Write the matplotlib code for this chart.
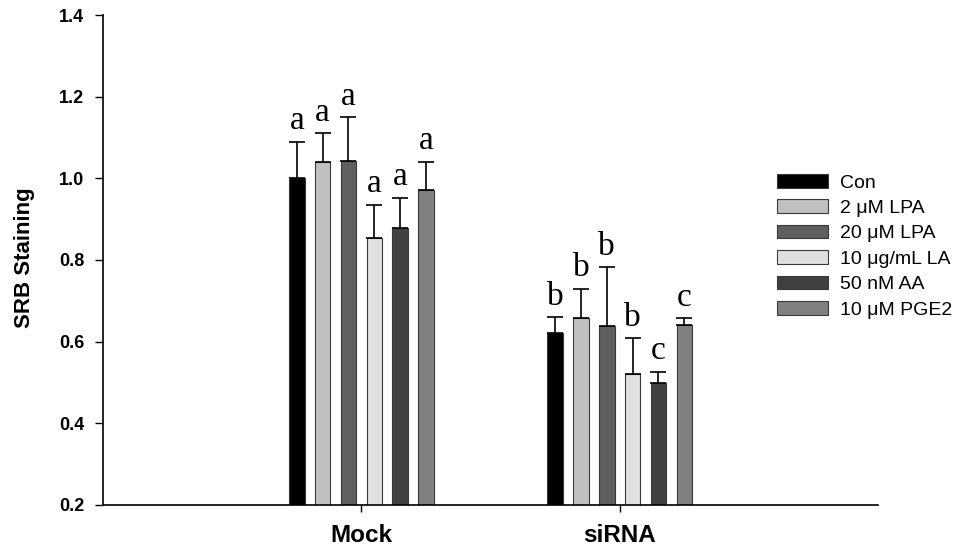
import matplotlib
matplotlib.use("Agg")
import matplotlib.pyplot as plt
import numpy as np

groups = ["Mock", "siRNA"]
treatments = ["Con", "2 μM LPA", "20 μM LPA", "10 μg/mL LA", "50 nM AA", "10 μM PGE2"]
colors = ["#000000", "#c0c0c0", "#606060", "#e0e0e0", "#404040", "#808080"]

# values[treatment][group]
means = [
    [1.000, 0.622],
    [1.039, 0.659],
    [1.043, 0.638],
    [0.853, 0.521],
    [0.878, 0.499],
    [0.971, 0.642],
]
errors = [
    [0.090, 0.038],
    [0.071, 0.070],
    [0.106, 0.144],
    [0.082, 0.087],
    [0.075, 0.027],
    [0.070, 0.015],
]
letters = [
    ["a", "b"],
    ["a", "b"],
    ["a", "b"],
    ["a", "b"],
    ["a", "c"],
    ["a", "c"],
]

fig = plt.figure(figsize=(9.63, 5.52), dpi=100)
ax = fig.add_axes([103/963, 1-505/552, (878-103)/963, (505-15)/552])

xpos = np.arange(1, len(groups) + 1)
step = 0.1
width = 0.06
n = len(treatments)
for i, (t, c) in enumerate(zip(treatments, colors)):
    x = xpos + (i - (n - 1) / 2) * step
    ax.bar(x, means[i], width, bottom=0, color=c, edgecolor="#3a3a3a",
           linewidth=0.8, label=t, zorder=2)
    ax.errorbar(x, means[i], yerr=[np.zeros(len(groups)), errors[i]],
                fmt="none", ecolor="black", elinewidth=1.2, capsize=6,
                capthick=1.2, zorder=3)
    for j in range(len(groups)):
        ax.annotate(letters[i][j], (x[j], means[i][j] + errors[i][j]),
                    xytext=(0, 9), textcoords="offset points",
                    ha="center", va="baseline", fontsize=24,
                    family="Liberation Serif")

ax.set_xlim(0, 3)
ax.set_ylim(0.2, 1.4)
ax.set_yticks([0.2, 0.4, 0.6, 0.8, 1.0, 1.2, 1.4])
ax.set_yticklabels([f"{v:.1f}" for v in [0.2, 0.4, 0.6, 0.8, 1.0, 1.2, 1.4]],
                   fontsize=13, fontweight="bold", family="Liberation Sans")
ax.set_xticks(xpos)
ax.set_xticklabels(groups, fontsize=17.5, fontweight="bold", family="Liberation Sans")
ax.tick_params(axis="y", direction="out", length=5.5, width=1, pad=8)
ax.tick_params(axis="x", direction="out", length=5, width=1, pad=9)
ax.spines["top"].set_visible(False)
ax.spines["right"].set_visible(False)
ax.spines["left"].set_linewidth(1.2)
ax.spines["bottom"].set_linewidth(1.2)
ax.set_ylabel("SRB Staining", fontsize=16, fontweight="bold",
              family="Liberation Sans")
ax.yaxis.set_label_coords(-0.088, 0.505)

handles, labels = ax.get_legend_handles_labels()
fig.legend(handles, labels, loc="upper left",
           bbox_to_anchor=(777/963, 1-174/552), frameon=False,
           prop={"family": "Liberation Sans", "size": 14},
           handlelength=2.6, handleheight=0.7, handletextpad=0.65,
           labelspacing=0.4, borderpad=0, borderaxespad=0)

fig.savefig("out.png", dpi=100)
